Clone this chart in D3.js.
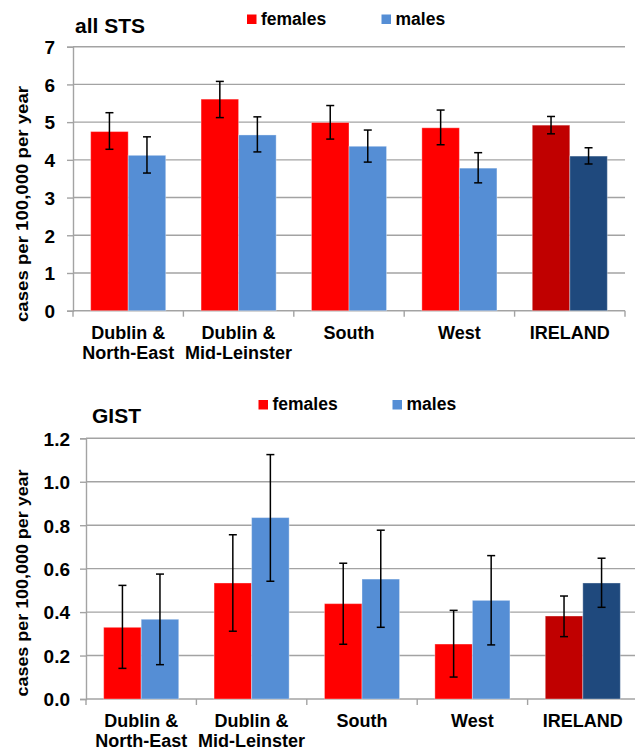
<!DOCTYPE html>
<html>
<head>
<meta charset="utf-8">
<script src="https://cdn.jsdelivr.net/npm/d3@7"></script>
<style>
  html, body { margin: 0; padding: 0; background: #fff; }
  svg { display: block; font-family: Arial, "Liberation Sans", sans-serif; }
</style>
</head>
<body>
<svg id="chart" width="635" height="748"></svg>
<script>
// ---------- DATA ----------
const regions = ["Dublin &\nNorth-East", "Dublin &\nMid-Leinster", "South", "West", "IRELAND"];
const seriesNames = ["females", "males"];

const stsTicks = [0, 1, 2, 3, 4, 5, 6, 7];
const stsFemales   = [4.75, 5.61, 4.99, 4.85, 4.92];
const stsFemalesLo = [4.28, 5.12, 4.55, 4.40, 4.69];
const stsFemalesHi = [5.25, 6.08, 5.44, 5.32, 5.15];
const stsMales     = [4.12, 4.66, 4.36, 3.78, 4.10];
const stsMalesLo   = [3.65, 4.21, 3.94, 3.39, 3.89];
const stsMalesHi   = [4.61, 5.14, 4.79, 4.19, 4.32];

const gistTicks = [0, 0.2, 0.4, 0.6, 0.8, 1.0, 1.2];
const gistFemales   = [0.330, 0.534, 0.439, 0.253, 0.382];
const gistFemalesLo = [0.141, 0.312, 0.252, 0.101, 0.287];
const gistFemalesHi = [0.523, 0.756, 0.625, 0.408, 0.474];
const gistMales     = [0.367, 0.835, 0.552, 0.454, 0.534];
const gistMalesLo   = [0.158, 0.542, 0.330, 0.249, 0.422];
const gistMalesHi   = [0.575, 1.125, 0.777, 0.660, 0.648];

// ---------- STYLE ----------
const femaleColor = "#FF0000", maleColor = "#558ED5";
const femaleNational = "#C00000", maleNational = "#1F497D";
const gridColor = "#A3A3A3";

const svg = d3.select("#chart");

function drawChart(cfg) {
  const g = svg.append("g");
  const x0 = d3.scaleBand().domain(regions).range([cfg.left, cfg.right]).padding(0);
  const barW = x0.bandwidth() * 0.34;
  const x1 = d3.scaleOrdinal().domain(seriesNames).range([-barW, 0]);
  const y = d3.scaleLinear().domain([0, cfg.max]).range([cfg.bottom, cfg.top]);

  // gridlines
  g.append("g").selectAll("line").data(cfg.ticks.filter(t => t > 0)).join("line")
    .attr("x1", cfg.left).attr("x2", cfg.right)
    .attr("y1", d => y(d)).attr("y2", d => y(d))
    .attr("stroke", gridColor).attr("stroke-width", 1.4);

  // y axis
  const yAxis = d3.axisLeft(y).tickValues(cfg.ticks).tickSize(6).tickPadding(cfg.tickPad)
    .tickFormat(cfg.fmt);
  const ya = g.append("g").attr("transform", `translate(${cfg.left},0)`).call(yAxis);
  ya.select(".domain").attr("stroke", gridColor).attr("stroke-width", 1.4);
  ya.selectAll(".tick line").attr("stroke", gridColor).attr("stroke-width", 1.4);
  ya.selectAll(".tick text").attr("font-size", cfg.tickFont).attr("font-weight", "bold")
    .attr("fill", "#000").attr("font-family", "Arial, 'Liberation Sans', sans-serif")
    .attr("dy", "0.36em");

  // x axis
  const xa = g.append("g").attr("transform", `translate(0,${cfg.bottom})`);
  xa.append("line").attr("x1", cfg.left).attr("x2", cfg.right).attr("y1", 0).attr("y2", 0)
    .attr("stroke", gridColor).attr("stroke-width", 1.4);
  const bounds = regions.map(r => x0(r)).concat([x0(regions[regions.length - 1]) + x0.bandwidth()]);
  xa.selectAll("line.tk").data(bounds).join("line").attr("class", "tk")
    .attr("x1", d => d).attr("x2", d => d).attr("y1", 0).attr("y2", 6)
    .attr("stroke", gridColor).attr("stroke-width", 1.4);
  const lbl = g.append("g").selectAll("text.cat").data(regions).join("text").attr("class", "cat")
    .attr("x", d => x0(d) + x0.bandwidth() / 2).attr("y", cfg.catY)
    .attr("text-anchor", "middle").attr("font-size", 18).attr("font-weight", "bold");
  lbl.each(function(d) {
    const t = d3.select(this);
    d.split("\n").forEach((line, i) => {
      t.append("tspan").attr("x", x0(d) + x0.bandwidth() / 2).attr("dy", i === 0 ? 0 : 20.5).text(line);
    });
  });

  // bars
  const rows = regions.map((r, i) => ({
    region: r, national: r === "IRELAND",
    vals: [
      { s: "females", v: cfg.f[i], lo: cfg.fLo[i], hi: cfg.fHi[i] },
      { s: "males", v: cfg.m[i], lo: cfg.mLo[i], hi: cfg.mHi[i] }
    ]
  }));
  const grp = g.append("g").selectAll("g").data(rows).join("g")
    .attr("transform", d => `translate(${x0(d.region) + x0.bandwidth() / 2},0)`);
  grp.selectAll("rect").data(d => d.vals.map(v => Object.assign({ national: d.national }, v))).join("rect")
    .attr("x", d => x1(d.s)).attr("width", barW)
    .attr("y", d => y(d.v)).attr("height", d => y(0) - y(d.v))
    .attr("fill", d => d.s === "females" ? (d.national ? femaleNational : femaleColor)
                                          : (d.national ? maleNational : maleColor))
    .attr("stroke", "rgba(255,255,255,0.35)").attr("stroke-width", 1);

  // error bars
  const eb = grp.selectAll("g.err").data(d => d.vals).join("g").attr("class", "err")
    .attr("transform", d => `translate(${x1(d.s) + barW / 2},0)`);
  eb.append("line").attr("x1", 0).attr("x2", 0).attr("y1", d => y(d.lo)).attr("y2", d => y(d.hi))
    .attr("stroke", "#000").attr("stroke-width", 1.5);
  eb.append("line").attr("x1", -4).attr("x2", 4).attr("y1", d => y(d.lo)).attr("y2", d => y(d.lo))
    .attr("stroke", "#000").attr("stroke-width", 1.5);
  eb.append("line").attr("x1", -4).attr("x2", 4).attr("y1", d => y(d.hi)).attr("y2", d => y(d.hi))
    .attr("stroke", "#000").attr("stroke-width", 1.5);

  // title
  g.append("text").attr("x", cfg.titleX).attr("y", cfg.titleY).attr("font-size", 21)
    .attr("font-weight", "bold").text(cfg.title);

  // legend
  const leg = g.append("g");
  seriesNames.forEach((s, i) => {
    leg.append("rect").attr("x", cfg.legX[i]).attr("y", cfg.legY - 10).attr("width", 9.5).attr("height", 9.5)
      .attr("fill", s === "females" ? femaleColor : maleColor);
    leg.append("text").attr("x", cfg.legX[i] + 14).attr("y", cfg.legY).attr("font-size", 17.5)
      .attr("font-weight", "bold").text(s);
  });

  // y label
  g.append("text")
    .attr("transform", `translate(${cfg.ylabX},${cfg.ylabY}) rotate(-90)`)
    .attr("text-anchor", "middle").attr("font-size", 16).attr("font-weight", "bold")
    .attr("textLength", cfg.ylabLen).attr("lengthAdjust", "spacingAndGlyphs")
    .text("cases per 100,000 per year");
}

drawChart({
  left: 73, right: 625, top: 46.7, bottom: 310.7, max: 7, ticks: stsTicks,
  fmt: d3.format("d"), tickPad: 12, tickFont: 19, catY: 338.5,
  f: stsFemales, fLo: stsFemalesLo, fHi: stsFemalesHi,
  m: stsMales, mLo: stsMalesLo, mHi: stsMalesHi,
  title: "all STS", titleX: 75, titleY: 33,
  legX: [247, 381.5], legY: 24.5,
  ylabX: 28, ylabY: 204, ylabLen: 236
});

drawChart({
  left: 86, right: 638, top: 438.3, bottom: 699, max: 1.2, ticks: gistTicks,
  fmt: d3.format(".1f"), tickPad: 10, tickFont: 19, catY: 726.7,
  f: gistFemales, fLo: gistFemalesLo, fHi: gistFemalesHi,
  m: gistMales, mLo: gistMalesLo, mHi: gistMalesHi,
  title: "GIST", titleX: 92, titleY: 423,
  legX: [258.5, 392.5], legY: 410,
  ylabX: 28, ylabY: 583, ylabLen: 227
});
</script>
</body>
</html>
